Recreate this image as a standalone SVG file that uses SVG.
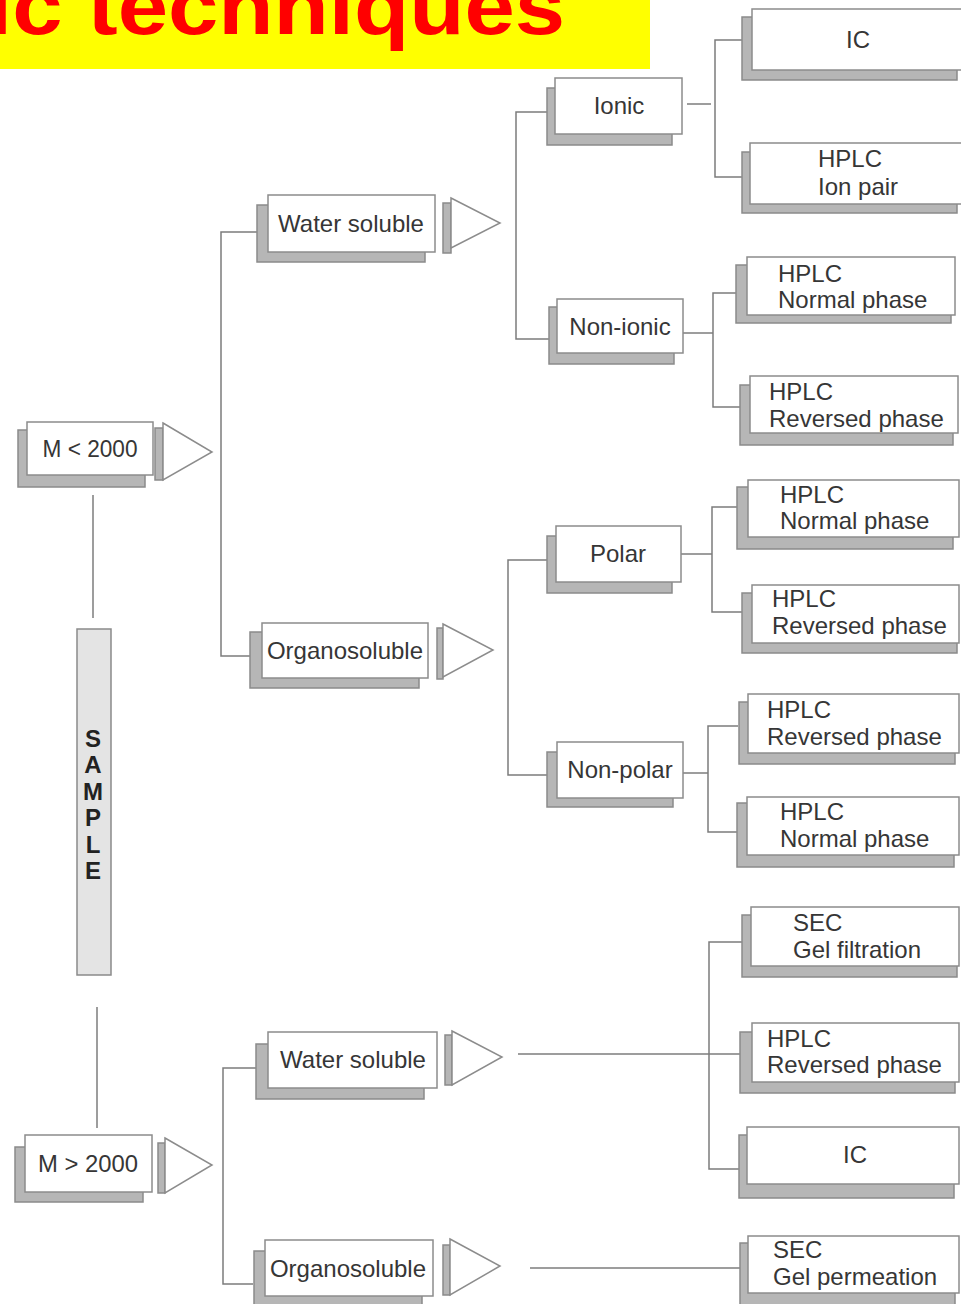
<svg xmlns="http://www.w3.org/2000/svg" width="961" height="1304" viewBox="0 0 961 1304">
<style>
.sh{fill:#b6b6b6;stroke:#8a8a8a;stroke-width:1.5}
.bx{fill:#fff;stroke:#8c8c8c;stroke-width:1.5}
.ln{stroke:#7c7c7c;stroke-width:1.5;fill:none}
.t{font-family:"Liberation Sans",Arial,sans-serif;font-size:24px;fill:#363636}
.c{text-anchor:middle}
.tri{fill:#fff;stroke:#8c8c8c;stroke-width:1.5}
</style>
<rect width="961" height="1304" fill="#fff"/>
<g id="title">
<rect x="0" y="0" width="650" height="69" fill="#ffff00"/>
<text x="-13" y="34" font-family="'Liberation Sans',Arial,sans-serif" font-weight="bold" font-size="80" fill="#ff0000" textLength="578" lengthAdjust="spacingAndGlyphs">ic techniques</text>
</g>
<g id="connectors">
<path class="ln" d="M93,495V618"/>
<path class="ln" d="M97,1007V1128"/>
<path class="ln" d="M257,232H221V656H250"/>
<path class="ln" d="M257,1068H223V1284H253"/>
<path class="ln" d="M547,112H516V339H549"/>
<path class="ln" d="M687,104H711"/>
<path class="ln" d="M742,40H715V177H742"/>
<path class="ln" d="M683,333H713"/>
<path class="ln" d="M737,293H713V407H740"/>
<path class="ln" d="M547,560H508V775H547"/>
<path class="ln" d="M681,554H712"/>
<path class="ln" d="M738,507H712V612H742"/>
<path class="ln" d="M683,773H708"/>
<path class="ln" d="M738,726H708V832H738"/>
<path class="ln" d="M518,1054H740"/>
<path class="ln" d="M742,942H709V1169H739"/>
<path class="ln" d="M530,1268H740"/>
</g>
<g id="sample">
<rect x="77" y="629" width="34" height="346" fill="#e4e4e4" stroke="#8a8a8a" stroke-width="1.5"/>
<text font-family="'Liberation Sans',Arial,sans-serif" font-weight="bold" font-size="24" fill="#222" text-anchor="middle"><tspan x="93" y="747">S</tspan><tspan x="93" y="773">A</tspan><tspan x="93" y="800">M</tspan><tspan x="93" y="826">P</tspan><tspan x="93" y="853">L</tspan><tspan x="93" y="879">E</tspan></text>
</g>
<g id="m-lt">
<rect class="sh" x="18" y="430" width="127" height="57"/>
<rect class="bx" x="27" y="422" width="126" height="53"/>
<text class="t c" x="90" y="457" textLength="95" lengthAdjust="spacingAndGlyphs">M &lt; 2000</text>
<rect class="sh" x="155" y="428" width="8" height="52"/>
<polygon class="tri" points="163,423 212,452 163,480"/>
</g>
<g id="m-gt">
<rect class="sh" x="15" y="1147" width="128" height="55"/>
<rect class="bx" x="25" y="1135" width="127" height="57"/>
<text class="t c" x="88" y="1172" textLength="100" lengthAdjust="spacingAndGlyphs">M &gt; 2000</text>
<rect class="sh" x="158" y="1143" width="7" height="50"/>
<polygon class="tri" points="165,1138 212,1165 165,1193"/>
</g>
<g id="ws-top">
<rect class="sh" x="257" y="205" width="168" height="57"/>
<rect class="bx" x="268" y="195" width="167" height="57"/>
<text class="t c" x="351" y="232">Water soluble</text>
<rect class="sh" x="443" y="203" width="8" height="50"/>
<polygon class="tri" points="451,198 500,223 451,248"/>
</g>
<g id="org-top">
<rect class="sh" x="250" y="632" width="169" height="56"/>
<rect class="bx" x="262" y="623" width="166" height="55"/>
<text class="t c" x="345" y="659">Organosoluble</text>
<rect class="sh" x="437" y="628" width="6" height="51"/>
<polygon class="tri" points="443,624 493,650 443,677"/>
</g>
<g id="ws-bot">
<rect class="sh" x="256" y="1044" width="168" height="55"/>
<rect class="bx" x="268" y="1032" width="169" height="56"/>
<text class="t c" x="353" y="1068">Water soluble</text>
<rect class="sh" x="445" y="1035" width="7" height="50"/>
<polygon class="tri" points="452,1031 502,1057 452,1085"/>
</g>
<g id="org-bot">
<rect class="sh" x="254" y="1251" width="168" height="60"/>
<rect class="bx" x="265" y="1240" width="168" height="56"/>
<text class="t c" x="348" y="1277">Organosoluble</text>
<rect class="sh" x="443" y="1245" width="7" height="50"/>
<polygon class="tri" points="450,1239 500,1266 450,1295"/>
</g>
<g id="ionic">
<rect class="sh" x="547" y="88" width="125" height="57"/>
<rect class="bx" x="555" y="78" width="127" height="56"/>
<text class="t c" x="619" y="114">Ionic</text>
</g>
<g id="nonionic">
<rect class="sh" x="549" y="307" width="125" height="57"/>
<rect class="bx" x="557" y="299" width="126" height="54"/>
<text class="t c" x="620" y="335">Non-ionic</text>
</g>
<g id="polar">
<rect class="sh" x="547" y="536" width="125" height="57"/>
<rect class="bx" x="556" y="526" width="125" height="56"/>
<text class="t c" x="618" y="562">Polar</text>
</g>
<g id="nonpolar">
<rect class="sh" x="547" y="752" width="126" height="55"/>
<rect class="bx" x="557" y="742" width="126" height="56"/>
<text class="t c" x="620" y="778">Non-polar</text>
</g>
<g id="ic-top">
<rect class="sh" x="742" y="17" width="215" height="63"/>
<rect class="bx" x="752" y="9" width="212" height="61"/>
<text class="t c" x="858" y="48">IC</text>
</g>
<g id="ionpair">
<rect class="sh" x="742" y="152" width="215" height="61"/>
<rect class="bx" x="750" y="143" width="214" height="61"/>
<text class="t" x="818" y="167">HPLC</text>
<text class="t" x="818" y="195">Ion pair</text>
</g>
<g id="normal1">
<rect class="sh" x="736" y="265" width="215" height="58"/>
<rect class="bx" x="747" y="257" width="208" height="58"/>
<text class="t" x="778" y="282">HPLC</text>
<text class="t" x="778" y="308">Normal phase</text>
</g>
<g id="reversed1">
<rect class="sh" x="740" y="385" width="213" height="60"/>
<rect class="bx" x="750" y="376" width="208" height="57"/>
<text class="t" x="769" y="400">HPLC</text>
<text class="t" x="769" y="427">Reversed phase</text>
</g>
<g id="normal2">
<rect class="sh" x="737" y="487" width="216" height="62"/>
<rect class="bx" x="748" y="480" width="211" height="57"/>
<text class="t" x="780" y="503">HPLC</text>
<text class="t" x="780" y="529">Normal phase</text>
</g>
<g id="reversed2">
<rect class="sh" x="742" y="593" width="215" height="60"/>
<rect class="bx" x="752" y="585" width="207" height="58"/>
<text class="t" x="772" y="607">HPLC</text>
<text class="t" x="772" y="634">Reversed phase</text>
</g>
<g id="reversed3">
<rect class="sh" x="739" y="702" width="216" height="62"/>
<rect class="bx" x="748" y="694" width="211" height="59"/>
<text class="t" x="767" y="718">HPLC</text>
<text class="t" x="767" y="745">Reversed phase</text>
</g>
<g id="normal3">
<rect class="sh" x="737" y="803" width="217" height="64"/>
<rect class="bx" x="747" y="797" width="212" height="58"/>
<text class="t" x="780" y="820">HPLC</text>
<text class="t" x="780" y="847">Normal phase</text>
</g>
<g id="secfilt">
<rect class="sh" x="742" y="915" width="215" height="62"/>
<rect class="bx" x="751" y="907" width="208" height="59"/>
<text class="t" x="793" y="931">SEC</text>
<text class="t" x="793" y="958">Gel filtration</text>
</g>
<g id="reversed4">
<rect class="sh" x="740" y="1032" width="215" height="61"/>
<rect class="bx" x="752" y="1023" width="207" height="59"/>
<text class="t" x="767" y="1047">HPLC</text>
<text class="t" x="767" y="1073">Reversed phase</text>
</g>
<g id="ic-bot">
<rect class="sh" x="739" y="1135" width="215" height="63"/>
<rect class="bx" x="747" y="1127" width="212" height="57"/>
<text class="t c" x="855" y="1163">IC</text>
</g>
<g id="secperm">
<rect class="sh" x="740" y="1243" width="215" height="68"/>
<rect class="bx" x="748" y="1236" width="211" height="57"/>
<text class="t" x="773" y="1258">SEC</text>
<text class="t" x="773" y="1285">Gel permeation</text>
</g>
</svg>
